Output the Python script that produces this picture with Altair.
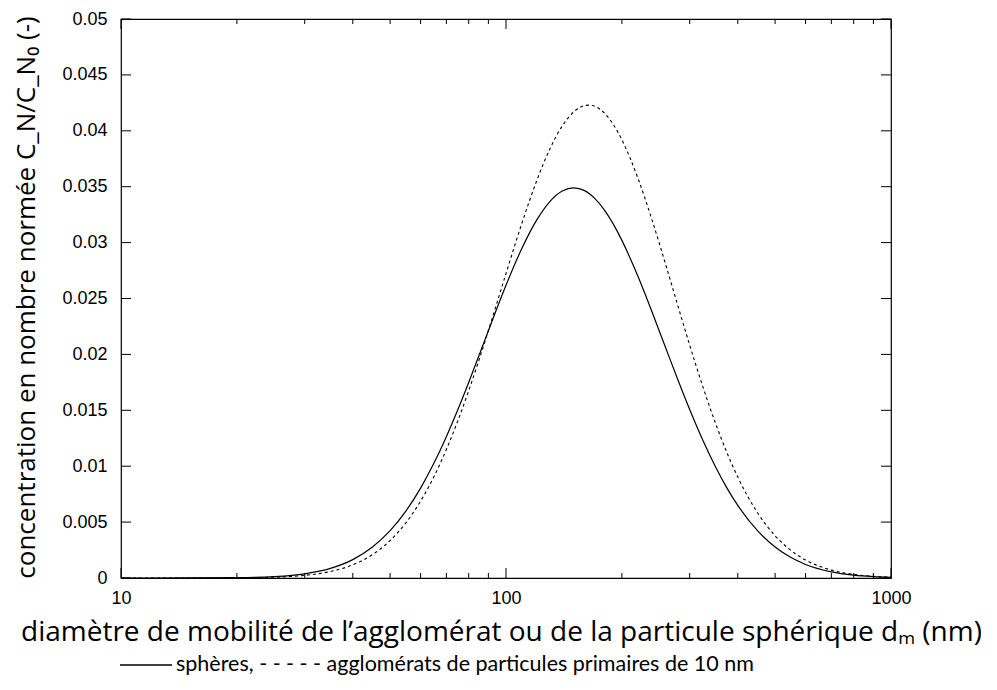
import altair as alt
import pandas as pd

# ---- data ----
diam = [10, 15, 20, 25, 30, 35, 40, 45, 50, 55, 60, 65, 70, 75, 80, 85, 90, 95,
        100, 110, 120, 130, 140, 150, 160, 165, 170, 180, 190, 200, 220, 240, 260, 280,
        300, 325, 350, 375, 400, 450, 500, 550, 600, 700, 800, 900, 1000]
spheres = [0.0000001, 0.0000033, 0.0000289, 0.000128, 0.000377, 0.000861, 0.001646,
           0.002769, 0.004231, 0.006006, 0.008042, 0.010277, 0.012642, 0.015067,
           0.017491, 0.019856, 0.022115, 0.024235, 0.026181, 0.029498, 0.031990,
           0.033673, 0.034611, 0.0349, 0.034647, 0.034350, 0.033957, 0.032930,
           0.031652, 0.030199, 0.027005, 0.023720, 0.020565, 0.017662, 0.015067,
           0.012272, 0.009948, 0.008042, 0.006492, 0.004231, 0.002769, 0.001825,
           0.001212, 0.000551, 0.000260, 0.000128, 0.000065]
agglomerats = [0.0000001, 0.0000014, 0.000015, 0.000073, 0.000237, 0.000582, 0.001182,
               0.002093, 0.003350, 0.004949, 0.006871, 0.009070, 0.011493, 0.014073,
               0.016747, 0.019455, 0.022137, 0.024745, 0.027237, 0.031744, 0.035485,
               0.038380, 0.040432, 0.041695, 0.042252, 0.042300, 0.042196, 0.041599,
               0.040564, 0.039193, 0.035780, 0.031926, 0.028011, 0.024267, 0.020832,
               0.017049, 0.013853, 0.011200, 0.009028, 0.005842, 0.003782, 0.002457,
               0.001609, 0.000706, 0.000321, 0.000151, 0.000074]

x_labels = [10, 100, 1000]
x_major = [10, 100, 1000]
x_minor = [20, 30, 40, 50, 60, 70, 80, 90, 200, 300, 400, 500, 600, 700, 800, 900]
y_ticks = [0, 0.005, 0.01, 0.015, 0.02, 0.025, 0.03, 0.035, 0.04, 0.045, 0.05]

x_title = "diamètre de mobilité de l’agglomérat ou de la particule sphérique dₘ (nm)"
y_title = "concentration en nombre normée C_N/C_N₀ (-)"
caption = "sphères, - - - - - agglomérats de particules primaires de 10 nm"

W, H = 770, 559

xscale = alt.Scale(type="log", domain=[10, 1000], nice=False)
yscale = alt.Scale(domain=[0, 0.05], nice=False, zero=False)

x_axis = alt.Axis(values=x_labels, format="d", ticks=False, tickSize=0, domain=False,
                  grid=False, labelFont="Liberation Sans", labelFontSize=18,
                  labelPadding=11, labelOverlap=False, labelFlush=False, labelColor="black",
                  title=x_title, titleFont="Open Sans", titleFontSize=28,
                  titleFontWeight="normal", titleColor="black",
                  titleY=54, titleX=380, titleBaseline="middle")
y_axis = alt.Axis(values=y_ticks, format="~g", ticks=False, tickSize=0, domain=False,
                  grid=False, labelFont="Liberation Sans", labelFontSize=18,
                  labelPadding=14, labelOverlap=False, labelColor="black",
                  title=y_title, titleFont="Open Sans", titleFontSize=26,
                  titleFontWeight="normal", titleColor="black", titleAngle=270,
                  titleX=-95, titleY=278, titleBaseline="middle", titleAlign="center")

df_s = pd.DataFrame({"d": diam, "c": spheres})
df_a = pd.DataFrame({"d": diam, "c": agglomerats})

line_s = alt.Chart(df_s).mark_line(color="black", strokeWidth=1.2, interpolate="monotone").encode(
    x=alt.X("d:Q", scale=xscale, axis=x_axis),
    y=alt.Y("c:Q", scale=yscale, axis=y_axis),
)
line_a = alt.Chart(df_a).mark_line(color="black", strokeWidth=1.1, strokeDash=[3, 3],
                                   interpolate="monotone").encode(
    x=alt.X("d:Q", scale=xscale),
    y=alt.Y("c:Q", scale=yscale),
)

# inward ticks on all four sides
xmaj = pd.DataFrame({"v": x_major})
xmin = pd.DataFrame({"v": x_minor})
yt = pd.DataFrame({"v": y_ticks})

tick_style = dict(color="black", strokeWidth=1)
ticks = [
    alt.Chart(xmaj).mark_rule(**tick_style).encode(x=alt.X("v:Q", scale=xscale), y=alt.value(H), y2=alt.value(H - 10)),
    alt.Chart(xmaj).mark_rule(**tick_style).encode(x=alt.X("v:Q", scale=xscale), y=alt.value(0), y2=alt.value(10)),
    alt.Chart(xmin).mark_rule(**tick_style).encode(x=alt.X("v:Q", scale=xscale), y=alt.value(H), y2=alt.value(H - 5)),
    alt.Chart(xmin).mark_rule(**tick_style).encode(x=alt.X("v:Q", scale=xscale), y=alt.value(0), y2=alt.value(5)),
    alt.Chart(yt).mark_rule(**tick_style).encode(y=alt.Y("v:Q", scale=yscale), x=alt.value(0), x2=alt.value(10)),
    alt.Chart(yt).mark_rule(**tick_style).encode(y=alt.Y("v:Q", scale=yscale), x=alt.value(W - 10), x2=alt.value(W)),
]

# caption legend below the chart
one = pd.DataFrame({"t": [caption]})
cap_line = alt.Chart(one).mark_rule(color="black", strokeWidth=1.3).encode(
    x=alt.value(-1), x2=alt.value(51), y=alt.value(646))
cap_text = alt.Chart(one).mark_text(align="left", baseline="middle", font="Lato",
                                    fontSize=21.5, color="black").encode(
    x=alt.value(55), y=alt.value(646), text="t:N")

chart = alt.layer(line_s, line_a, *ticks, cap_line, cap_text).properties(
    width=W, height=H,
    autosize=alt.AutoSizeParams(type="none"),
    padding={"left": 113, "top": 11, "right": 90, "bottom": 100},
).configure_view(stroke="black", strokeWidth=1.2)

chart.save("out.html", embed_options={"renderer": "svg", "actions": False})
